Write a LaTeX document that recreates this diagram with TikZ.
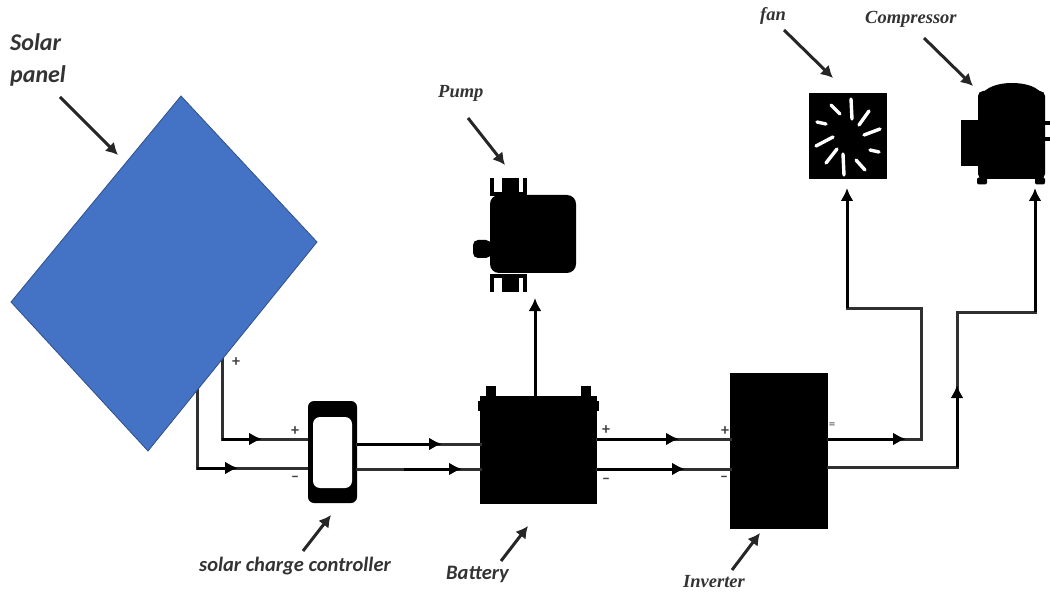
\documentclass[tikz,border=0pt]{standalone}
\usepackage{fontspec}
\setmainfont{Carlito}
\newfontfamily\serifl{Liberation Serif}
\usetikzlibrary{arrows.meta}
\definecolor{panelblue}{HTML}{4472C4}
\definecolor{wirecol}{HTML}{303030}
\tikzset{
  blk/.style={fill=black,draw=none,inner sep=0pt,outer sep=0pt,rectangle},
  wire/.style={draw=wirecol,line width=3pt,line cap=rect},
  wirearrow/.style={draw=black,line width=3pt,-{Latex[length=13pt,width=13pt]}},
  callout/.style={draw=black!85,line width=3pt,-{Latex[length=12pt,width=13pt]}},
  sanslabel/.style={font=\fontsize{20.5}{20.5}\selectfont\bfseries\itshape,text=black!80,inner sep=0pt},
  biglabel/.style={font=\fontsize{24}{24}\selectfont\bfseries\itshape,text=black!80,inner sep=0pt},
  seriflabel/.style={font=\serifl\fontsize{18.5}{18.5}\selectfont\bfseries\itshape,text=black!80,inner sep=0pt},
  sign/.style={font=\fontsize{16}{16}\selectfont\bfseries,text=black!75,inner sep=0pt},
  blade/.style={draw=white,line width=3.4pt,line cap=round}
}
\begin{document}
\begin{tikzpicture}[x=1pt,y=-1pt]
\useasboundingbox (0,0) rectangle (1050,596);
% wires: panel to controller (drawn first so they start under the panel edge)
\coordinate (a0) at (222,358);
\coordinate (a1) at (222,439);
\coordinate (a2) at (262,439);
\coordinate (a3) at (308,439);
\coordinate (b0) at (197,388);
\coordinate (b1) at (197,468);
\coordinate (b2) at (238,468);
\coordinate (b3) at (308,468);
\draw[wire] (a0) -- (a1) -- (a3);
\draw[wirearrow] (a1) -- (a2);
\draw[wire] (b0) -- (b1) -- (b3);
\draw[wirearrow] (b1) -- (b2);
% solar panel
\coordinate (pT) at (181,96);
\coordinate (pR) at (317,242);
\coordinate (pB) at (148,451);
\coordinate (pL) at (11,302);
\fill[panelblue,draw=panelblue!70!black,line width=0.8pt] (pT) -- (pR) -- (pB) -- (pL) -- cycle;
% main blocks
\node[blk,minimum width=49pt,minimum height=102pt,rounded corners=6pt] (ctrl) at (332.5,452) {};
\node[fill=white,inner sep=0pt,minimum width=39pt,minimum height=71pt,rounded corners=7pt] (ctrlin) at (332.5,452.5) {};
\node[blk,minimum width=117pt,minimum height=108pt] (batt) at (538.5,450) {};
\node[blk,minimum width=10pt,minimum height=11pt] (bt1) at (491,391) {};
\node[blk,minimum width=10pt,minimum height=11pt] (bt2) at (586,391) {};
\node[blk,minimum width=121pt,minimum height=10pt] (bsh) at (538.5,406) {};
\node[blk,minimum width=98pt,minimum height=156pt] (inv) at (779,451) {};
% pump
\node[blk,minimum width=86pt,minimum height=78pt,rounded corners=9pt] (pump) at (533,234) {};
\node[blk,minimum width=18pt,minimum height=18pt,rounded corners=5pt] (pstub) at (482,249) {};
\node[blk,minimum width=17pt,minimum height=18pt] (pt0) at (510.5,187) {};
\node[blk,minimum width=4pt,minimum height=18pt] (pt1) at (492,187) {};
\node[blk,minimum width=4pt,minimum height=18pt] (pt2) at (525,187) {};
\node[blk,minimum width=36pt,minimum height=4pt] (pt3) at (508.5,194) {};
\node[blk,minimum width=17pt,minimum height=18pt] (pb0) at (510.5,283) {};
\node[blk,minimum width=4pt,minimum height=18pt] (pb1) at (492,283) {};
\node[blk,minimum width=4pt,minimum height=18pt] (pb2) at (525,283) {};
\node[blk,minimum width=36pt,minimum height=4pt] (pb3) at (508.5,276) {};
% fan
\node[blk,minimum width=78pt,minimum height=86pt] (fan) at (848,136) {};
\draw[blade] (831,105) -- (840,114);
\draw[blade] (851,99) -- (852,119);
\draw[blade] (869,111) -- (859,125);
\draw[blade] (880,129) -- (864,135);
\draw[blade] (870,150) -- (879,152);
\draw[blade] (856,160) -- (865,170);
\draw[blade] (843,154) -- (844,175);
\draw[blade] (837,149) -- (826,163);
\draw[blade] (833,137) -- (816,146);
\draw[blade] (817,122) -- (826,124);
% compressor
\node[blk,minimum width=67pt,minimum height=88pt,rounded corners=5pt] (comp) at (1011.5,135) {};
\fill[black] (979,98) .. controls (985,86) and (1000,83) .. (1012,83) .. controls (1024,83) and (1040,86) .. (1044,98) -- cycle;
\node[blk,minimum width=18pt,minimum height=46pt] (cbox) at (970,143) {};
\node[blk,minimum width=10pt,minimum height=7pt,rounded corners=2pt] (cf1) at (982,181) {};
\node[blk,minimum width=10pt,minimum height=7pt,rounded corners=2pt] (cf2) at (1040,181) {};
\node[blk,minimum width=6pt,minimum height=4pt] (cp1) at (1047,123) {};
\node[blk,minimum width=6pt,minimum height=4pt] (cp2) at (1047,139) {};
% controller to battery
\coordinate (c0) at (357,444);
\coordinate (c1) at (442,444);
\coordinate (c2) at (480,444);
\coordinate (d0) at (357,469);
\coordinate (d1) at (404,469);
\coordinate (d2) at (462,469);
\coordinate (d3) at (480,469);
\draw[wire] (c0) -- (c2);
\draw[wirearrow] (c0) -- (c1);
\draw[wire] (d0) -- (d3);
\draw[wirearrow] (d1) -- (d2);
% battery to inverter
\coordinate (e0) at (597,439);
\coordinate (e1) at (679,439);
\coordinate (e2) at (730,439);
\coordinate (f0) at (597,469);
\coordinate (f1) at (685,469);
\coordinate (f2) at (730,469);
\draw[wire] (e0) -- (e2);
\draw[wirearrow] (e0) -- (e1);
\draw[wire] (f0) -- (f2);
\draw[wirearrow] (f0) -- (f1);
% inverter to fan
\coordinate (g0) at (828,439);
\coordinate (g1) at (906,439);
\coordinate (g2) at (921,439);
\coordinate (g3) at (921,308);
\coordinate (g4) at (847,308);
\coordinate (g5) at (847,188);
\draw[wire] (g0) -- (g2) -- (g3) -- (g4);
\draw[wirearrow] (g0) -- (g1);
\draw[wirearrow] (g4) -- (g5);
% inverter to compressor
\coordinate (h0) at (828,467);
\coordinate (h1) at (957,467);
\coordinate (h2) at (957,385);
\coordinate (h3) at (957,312);
\coordinate (h4) at (1035,312);
\coordinate (h5) at (1035,188);
\draw[wire] (h0) -- (h1) -- (h3) -- (h4);
\draw[wirearrow] (h1) -- (h2);
\draw[wirearrow] (h4) -- (h5);
% battery to pump
\coordinate (j0) at (535,396);
\coordinate (j1) at (535,298);
\draw[wirearrow] (j0) -- (j1);
% signs
\node[sign] (s1) at (236,362) {+};
\node[sign] (s2) at (295,431) {+};
\node[sign] (s3) at (295,479) {–};
\node[sign] (s4) at (606,430) {+};
\node[sign] (s5) at (606,481) {–};
\node[sign] (s6) at (725,431) {+};
\node[sign] (s7) at (724,479) {–};
\node[sign,font=\fontsize{13}{13}\selectfont] (s8) at (832,426) {=};
% labels
\node[biglabel,anchor=west] (lsolar) at (10,42) {Solar};
\node[biglabel,anchor=west] (lpanel) at (10,76) {panel};
\node[seriflabel,anchor=west] (lpump) at (438,93) {Pump};
\node[seriflabel,anchor=west] (lfan) at (760,16) {fan};
\node[seriflabel,anchor=west] (lcomp) at (865,19) {Compressor};
\node[sanslabel,anchor=west] (lctrl) at (199,566) {solar charge controller};
\node[sanslabel,anchor=west] (lbatt) at (446,574) {Battery};
\node[seriflabel,anchor=west] (linv) at (683,582) {Inverter};
% callout arrows
\coordinate (k1a) at (60,97);   \coordinate (k1b) at (118,155);
\coordinate (k2a) at (468,118); \coordinate (k2b) at (505,165);
\coordinate (k3a) at (784,30);  \coordinate (k3b) at (833,78);
\coordinate (k4a) at (924,38);  \coordinate (k4b) at (973,86);
\coordinate (k5a) at (303,551); \coordinate (k5b) at (331,515);
\coordinate (k6a) at (501,561); \coordinate (k6b) at (528,526);
\coordinate (k7a) at (732,570); \coordinate (k7b) at (760,533);
\draw[callout] (k1a) -- (k1b);
\draw[callout] (k2a) -- (k2b);
\draw[callout] (k3a) -- (k3b);
\draw[callout] (k4a) -- (k4b);
\draw[callout] (k5a) -- (k5b);
\draw[callout] (k6a) -- (k6b);
\draw[callout] (k7a) -- (k7b);
\end{tikzpicture}
\end{document}
